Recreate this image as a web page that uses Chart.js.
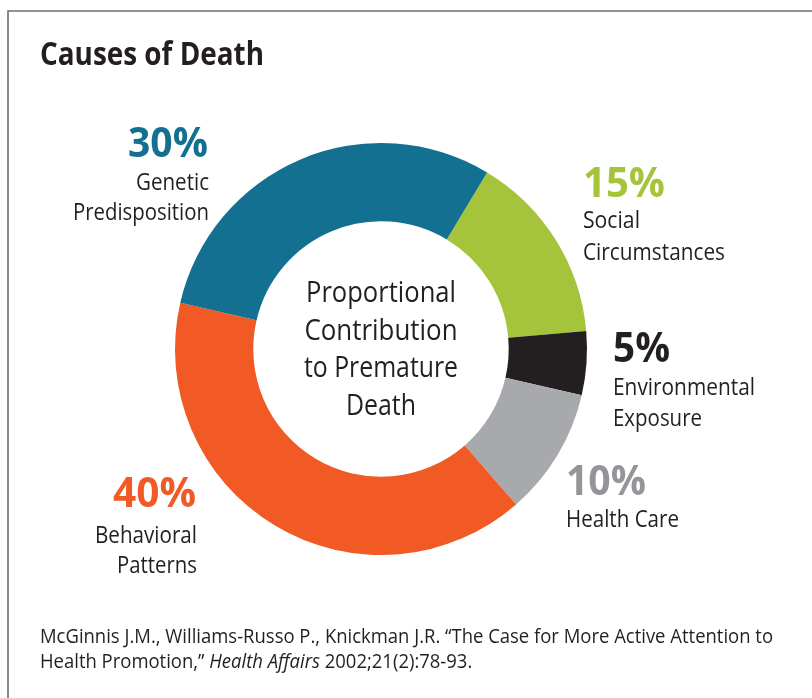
<html lang="en">
<head>
  <meta charset="utf-8">
  <title>Causes of Death</title>
  <script src="https://cdn.jsdelivr.net/npm/chart.js@4.4.1/dist/chart.umd.min.js"></script>
  <style>
    body { margin: 0; background: #fff; }
  </style>
</head>
<body>
<canvas id="donut" width="812" height="698"></canvas>

<script>
// data, in drawing order (clockwise from the green slice)
var causes = ["Social Circumstances", "Environmental Exposure", "Health Care", "Behavioral Patterns", "Genetic Predisposition"];
var shares = [15, 5, 10, 40, 30];
var sliceColors = ["#a6c43b", "#231f20", "#a7a9ac", "#f15a24", "#137090"];
var pctColors = ["#a6c43b", "#231f20", "#939598", "#f15a24", "#137090"];
var centerLines = ["Proportional", "Contribution", "to Premature", "Death"];
var title = "Causes of Death";
var source1 = "McGinnis J.M., Williams-Russo P., Knickman J.R. \u201CThe Case for More Active Attention to";
var source2a = "Health Promotion,\u201D ";
var source2b = "Health Affairs";
var source2c = " 2002;21(2):78-93.";

var FONT = "'Open Sans', 'Noto Sans', sans-serif";
var DARK = "#231f20";

// where each slice's callout goes: x, baseline of pct, align, pct width, [text, width, baseline]
var callouts = [
    {x: 583, y: 197, align: "left",  pw: 82, lines: [["Social", 57, 228], ["Circumstances", 142, 260]]},
    {x: 613, y: 362, align: "left",  pw: 57, lines: [["Environmental", 142, 395], ["Exposure", 89, 426]]},
    {x: 566, y: 495, align: "left",  pw: 80, lines: [["Health Care", 113, 527]]},
    {x: 196, y: 507, align: "right", pw: 83, lines: [["Behavioral", 102, 543], ["Patterns", 80, 573]]},
    {x: 208, y: 157, align: "right", pw: 80, lines: [["Genetic", 73, 190], ["Predisposition", 136, 220]]}
];

function fitText(ctx, text, x, y, align, w) {
    var natural = ctx.measureText(text).width;
    var sx = w / natural;
    ctx.save();
    ctx.translate(x, y);
    ctx.scale(sx, 1);
    ctx.textAlign = align;
    ctx.fillText(text, 0, 0);
    ctx.restore();
    return sx;
}

var decor = {
    id: 'decor',
    beforeDraw: function(chart) {
        var ctx = chart.ctx;
        ctx.save();
        ctx.fillStyle = "#fff";
        ctx.fillRect(0, 0, chart.width, chart.height);
        ctx.strokeStyle = "#6d6e71";
        ctx.lineWidth = 1.6;
        ctx.beginPath();
        ctx.moveTo(8, 698);
        ctx.lineTo(8, 11);
        ctx.lineTo(812, 11);
        ctx.stroke();
        ctx.restore();
    },
    afterDraw: function(chart) {
        var ctx = chart.ctx;
        ctx.save();
        ctx.textBaseline = "alphabetic";

        // title
        ctx.fillStyle = DARK;
        ctx.font = "bold 32px " + FONT;
        fitText(ctx, title, 40, 65, "left", 224);

        // callouts
        for (var i = 0; i < causes.length; i++) {
            var c = callouts[i];
            ctx.fillStyle = pctColors[i];
            ctx.font = "bold 42px " + FONT;
            fitText(ctx, shares[i] + "%", c.x, c.y, c.align, c.pw);
            ctx.fillStyle = DARK;
            ctx.font = "23px " + FONT;
            for (var j = 0; j < c.lines.length; j++) {
                var ln = c.lines[j];
                var lx = c.x;
                if (c.align == "right") lx = c.x + 1;
                fitText(ctx, ln[0], lx, ln[2], c.align, ln[1]);
            }
        }

        // centre text
        var cx = chart.getDatasetMeta(0).data[0].x;
        var centerW = [150, 153, 154, 70];
        var centerY = [302, 340, 377, 415];
        ctx.fillStyle = DARK;
        ctx.font = "29px " + FONT;
        for (var k = 0; k < centerLines.length; k++) {
            fitText(ctx, centerLines[k], cx, centerY[k], "center", centerW[k]);
        }

        // source
        ctx.font = "19.5px " + FONT;
        var sx = fitText(ctx, source1, 40, 643, "left", 733);
        var x = 40;
        var w1 = ctx.measureText(source2a).width * sx;
        fitText(ctx, source2a, x, 668, "left", w1);
        x += w1;
        ctx.font = "italic 19.5px " + FONT;
        var w2 = ctx.measureText(source2b).width * sx;
        fitText(ctx, source2b, x, 668, "left", w2);
        x += w2;
        ctx.font = "19.5px " + FONT;
        var w3 = ctx.measureText(source2c).width * sx;
        fitText(ctx, source2c, x, 668, "left", w3);
        ctx.restore();
    }
};

var ctx = document.getElementById("donut").getContext('2d');
var donutChart = new Chart(ctx, {
    type: 'doughnut',
    data: {
        labels: causes,
        datasets: [{
            data: shares,
            backgroundColor: sliceColors,
            borderWidth: 0
        }]
    },
    options: {
        responsive: false,
        animation: false,
        devicePixelRatio: 1,
        rotation: 31,
        cutout: '62%',
        layout: {
            padding: {left: 175, right: 225, top: 143, bottom: 143}
        },
        plugins: {
            legend: {display: false},
            tooltip: {enabled: false},
            title: {display: false}
        }
    },
    plugins: [decor]
});
</script>
</body>
</html>
